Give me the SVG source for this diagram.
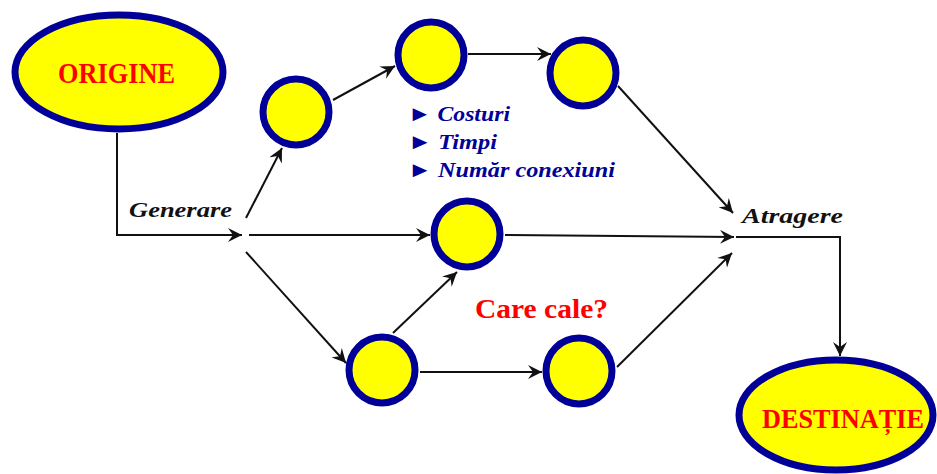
<svg xmlns="http://www.w3.org/2000/svg" width="937" height="474" viewBox="0 0 937 474">
<style>
.big{fill:#ffff00;stroke:#000099;stroke-width:7}
.node{fill:#ffff00;stroke:#000099;stroke-width:7}
.lbl{font-family:"Liberation Serif",serif;font-weight:bold;fill:#ff0000}
.it{font-family:"Liberation Serif",serif;font-style:italic;font-weight:bold;font-size:22px;fill:#111}
.list{font-family:"Liberation Serif",serif;font-style:italic;font-weight:bold;font-size:22px;fill:#000099}
.c{fill:none;stroke:#111;stroke-width:2}
.a{marker-end:url(#ah)}
</style>
<defs>
<marker id="ah" markerUnits="userSpaceOnUse" markerWidth="16" markerHeight="14" refX="14" refY="7" orient="auto">
<path d="M0,0 L14,7 L0,14 L5,7 z" fill="#111"/>
</marker>
</defs>
<g id="connectors">
<polyline class="c a" points="117,133 117,235 242,235"/>
<line class="c a" x1="246" y1="218" x2="282" y2="148"/>
<line class="c a" x1="249" y1="235" x2="430" y2="235"/>
<line class="c a" x1="246" y1="252" x2="346" y2="363"/>
<line class="c a" x1="333" y1="100" x2="395" y2="66"/>
<line class="c a" x1="468" y1="54" x2="551" y2="54"/>
<line class="c a" x1="618" y1="86" x2="733" y2="213"/>
<line class="c a" x1="505" y1="235" x2="734" y2="237"/>
<line class="c a" x1="393" y1="333" x2="457" y2="272"/>
<line class="c a" x1="420" y1="372" x2="542" y2="372"/>
<line class="c a" x1="617" y1="367" x2="732" y2="253"/>
<polyline class="c a" points="736,237 840,237 840,356"/>
</g>
<g id="origine">
<ellipse class="big" cx="119" cy="72" rx="104" ry="57"/>
<text class="lbl" x="58" y="83" font-size="30" textLength="117" lengthAdjust="spacingAndGlyphs">ORIGINE</text>
</g>
<g id="destinatie">
<ellipse class="big" cx="836" cy="415" rx="97" ry="55"/>
<text class="lbl" x="762" y="428" font-size="28" textLength="162" lengthAdjust="spacingAndGlyphs">DESTINAȚIE</text>
</g>
<g id="n1"><circle class="node" cx="296" cy="112" r="33"/></g>
<g id="n2"><circle class="node" cx="431" cy="55" r="33"/></g>
<g id="n3"><circle class="node" cx="583" cy="73" r="33"/></g>
<g id="n4"><circle class="node" cx="467" cy="234" r="33"/></g>
<g id="n5"><circle class="node" cx="382" cy="370" r="33"/></g>
<g id="n6"><circle class="node" cx="579" cy="371" r="33"/></g>
<g id="labels">
<text class="it" x="129" y="217" textLength="103" lengthAdjust="spacingAndGlyphs">Generare</text>
<text class="it" x="742" y="223" textLength="101" lengthAdjust="spacingAndGlyphs">Atragere</text>
<text class="list" x="408" y="121" textLength="102" lengthAdjust="spacingAndGlyphs">► Costuri</text>
<text class="list" x="408" y="149" textLength="89" lengthAdjust="spacingAndGlyphs">► Timpi</text>
<text class="list" x="408" y="177" textLength="207" lengthAdjust="spacingAndGlyphs">► Număr conexiuni</text>
<text class="lbl" x="475" y="318" font-size="28" textLength="133" lengthAdjust="spacingAndGlyphs">Care cale?</text>
</g>
</svg>
